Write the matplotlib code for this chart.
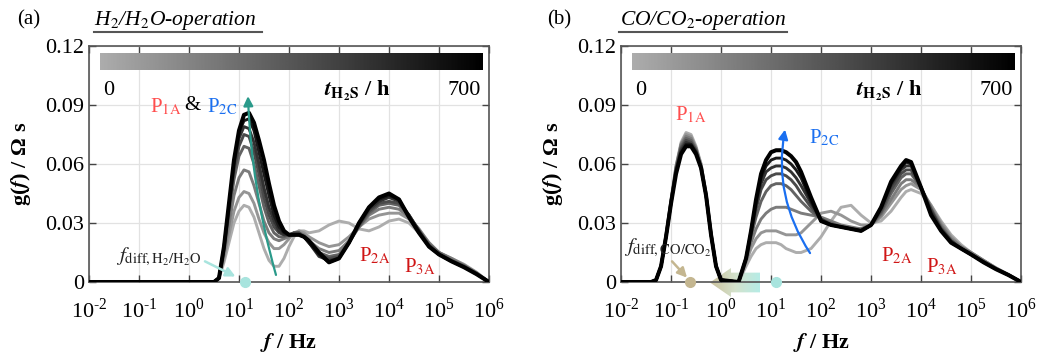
import numpy as np
import matplotlib
matplotlib.use("Agg")
import matplotlib.pyplot as plt
from matplotlib.lines import Line2D
from matplotlib.patches import Polygon
from matplotlib.colors import LinearSegmentedColormap

plt.rcParams['font.family'] = ['Liberation Serif', 'DejaVu Serif']
plt.rcParams['mathtext.fontset'] = 'stix'
plt.rcParams['font.size'] = 15

# ---- data (log10 f grid, g(f) in Ohm s), curves ordered 0 h -> 700 h ----
lf_h2 = [-2, 0.5, 0.6, 0.7, 0.8, 0.9, 1.0, 1.1, 1.2, 1.3, 1.4, 1.5, 1.6, 1.7, 1.8, 1.9, 2.0,
         2.1, 2.2, 2.3, 2.4, 2.6, 2.8, 3.0, 3.2, 3.4, 3.6, 3.8, 4.0, 4.2, 4.4, 4.6, 4.8, 5.0, 5.25, 5.5, 5.75, 6.0]
g_h2 = [
    [0, 0, 0.002, 0.010, 0.020, 0.030, 0.036, 0.039, 0.038, 0.033, 0.025, 0.017, 0.011, 0.008, 0.008, 0.012, 0.018,
     0.023, 0.026, 0.026, 0.025, 0.026, 0.029, 0.031, 0.030, 0.027, 0.026, 0.028, 0.031, 0.032, 0.030, 0.025, 0.019, 0.015, 0.012, 0.009, 0.005, 0],
    [0, 0, 0.002, 0.012, 0.024, 0.036, 0.043, 0.046, 0.045, 0.040, 0.032, 0.025, 0.020, 0.017, 0.017, 0.019, 0.022,
     0.025, 0.026, 0.025, 0.023, 0.020, 0.018, 0.019, 0.023, 0.028, 0.032, 0.034, 0.035, 0.035, 0.032, 0.026, 0.020, 0.015, 0.012, 0.0088, 0.0048, 0],
    [0, 0, 0.002, 0.014, 0.029, 0.044, 0.053, 0.057, 0.056, 0.049, 0.040, 0.031, 0.025, 0.022, 0.021, 0.022, 0.023,
     0.025, 0.025, 0.024, 0.021, 0.017, 0.015, 0.016, 0.021, 0.028, 0.034, 0.037, 0.038, 0.037, 0.033, 0.027, 0.020, 0.015, 0.012, 0.0085, 0.0046, 0],
    [0, 0, 0.002, 0.016, 0.034, 0.052, 0.064, 0.069, 0.068, 0.060, 0.049, 0.038, 0.030, 0.025, 0.023, 0.023, 0.024,
     0.025, 0.025, 0.023, 0.020, 0.015, 0.013, 0.014, 0.020, 0.028, 0.035, 0.039, 0.040, 0.039, 0.034, 0.026, 0.019, 0.015, 0.011, 0.0083, 0.0045, 0],
    [0, 0, 0.002, 0.017, 0.037, 0.056, 0.069, 0.075, 0.074, 0.066, 0.055, 0.043, 0.034, 0.028, 0.025, 0.024, 0.024,
     0.025, 0.025, 0.023, 0.020, 0.014, 0.012, 0.013, 0.020, 0.029, 0.036, 0.040, 0.041, 0.040, 0.034, 0.026, 0.019, 0.014, 0.011, 0.008, 0.0044, 0],
    [0, 0, 0.002, 0.017, 0.038, 0.059, 0.073, 0.079, 0.078, 0.071, 0.060, 0.048, 0.038, 0.031, 0.026, 0.024, 0.024,
     0.024, 0.024, 0.023, 0.020, 0.013, 0.011, 0.012, 0.020, 0.029, 0.037, 0.041, 0.043, 0.041, 0.034, 0.026, 0.018, 0.014, 0.0105, 0.0078, 0.0042, 0],
    [0, 0, 0.002, 0.018, 0.039, 0.061, 0.076, 0.082, 0.083, 0.077, 0.066, 0.055, 0.044, 0.034, 0.028, 0.025, 0.024,
     0.024, 0.024, 0.023, 0.020, 0.014, 0.010, 0.012, 0.020, 0.030, 0.038, 0.042, 0.044, 0.042, 0.033, 0.025, 0.018, 0.014, 0.0105, 0.0076, 0.004, 0],
    [0, 0, 0.002, 0.018, 0.040, 0.062, 0.077, 0.085, 0.086, 0.081, 0.072, 0.062, 0.050, 0.039, 0.031, 0.026, 0.024,
     0.024, 0.024, 0.023, 0.021, 0.015, 0.010, 0.012, 0.020, 0.030, 0.038, 0.043, 0.045, 0.042, 0.033, 0.025, 0.018, 0.014, 0.0105, 0.0075, 0.004, 0],
]

lf_co = [-2, -1.4, -1.3, -1.2, -1.1, -1.0, -0.9, -0.8, -0.7, -0.6, -0.5, -0.4, -0.3, -0.2, -0.1, 0.0,
         0.35, 0.5, 0.6, 0.7, 0.8, 0.9, 1.0, 1.1, 1.2, 1.3, 1.4, 1.5, 1.6, 1.8, 2.0, 2.2, 2.4, 2.6, 2.8,
         3.0, 3.2, 3.4, 3.6, 3.7, 3.8, 4.0, 4.2, 4.4, 4.6, 4.8, 5.0, 5.25, 5.5, 5.75, 6.0]
g_co_low = [  # -2 ... 0.0
    [0, 0, 0.001, 0.008, 0.024, 0.042, 0.059, 0.071, 0.076, 0.075, 0.069, 0.060, 0.045, 0.025, 0.008, 0.001],
    [0, 0, 0.001, 0.008, 0.024, 0.042, 0.059, 0.070, 0.075, 0.074, 0.068, 0.060, 0.045, 0.025, 0.008, 0.001],
    [0, 0, 0.001, 0.008, 0.024, 0.041, 0.058, 0.070, 0.074, 0.073, 0.068, 0.059, 0.045, 0.025, 0.008, 0.001],
    [0, 0, 0.001, 0.008, 0.023, 0.041, 0.058, 0.069, 0.073, 0.072, 0.067, 0.059, 0.044, 0.024, 0.008, 0.001],
    [0, 0, 0.001, 0.008, 0.023, 0.041, 0.057, 0.068, 0.072, 0.071, 0.067, 0.058, 0.044, 0.024, 0.008, 0.001],
    [0, 0, 0.001, 0.008, 0.023, 0.040, 0.057, 0.067, 0.071, 0.070, 0.066, 0.058, 0.044, 0.024, 0.008, 0.001],
    [0, 0, 0.001, 0.008, 0.023, 0.040, 0.056, 0.066, 0.070, 0.070, 0.066, 0.058, 0.044, 0.024, 0.008, 0.001],
    [0, 0, 0.001, 0.008, 0.023, 0.040, 0.055, 0.065, 0.069, 0.069, 0.065, 0.058, 0.044, 0.024, 0.008, 0.001],
]
g_co_high = [  # 0.35 ... 6.0
    [0, 0.008, 0.013, 0.017, 0.019, 0.020, 0.020, 0.020, 0.019, 0.017, 0.016, 0.015, 0.015, 0.017, 0.023, 0.031, 0.038, 0.039, 0.034,
     0.030, 0.031, 0.036, 0.043, 0.046, 0.047, 0.045, 0.039, 0.031, 0.024, 0.019, 0.015, 0.011, 0.0072, 0.0038, 0],
    [0, 0.010, 0.017, 0.022, 0.025, 0.026, 0.026, 0.026, 0.025, 0.024, 0.024, 0.024, 0.025, 0.030, 0.035, 0.036, 0.034, 0.031, 0.029,
     0.029, 0.033, 0.040, 0.047, 0.049, 0.050, 0.047, 0.039, 0.030, 0.023, 0.018, 0.015, 0.011, 0.0071, 0.0037, 0],
    [0, 0.011, 0.020, 0.027, 0.032, 0.035, 0.037, 0.038, 0.038, 0.038, 0.037, 0.036, 0.035, 0.034, 0.033, 0.031, 0.029, 0.028, 0.027,
     0.029, 0.034, 0.042, 0.050, 0.052, 0.052, 0.048, 0.038, 0.029, 0.022, 0.018, 0.015, 0.011, 0.007, 0.0037, 0],
    [0, 0.012, 0.023, 0.033, 0.041, 0.046, 0.049, 0.050, 0.050, 0.049, 0.047, 0.044, 0.041, 0.036, 0.032, 0.030, 0.028, 0.027, 0.027,
     0.029, 0.035, 0.045, 0.053, 0.055, 0.055, 0.048, 0.037, 0.028, 0.021, 0.017, 0.014, 0.0105, 0.0068, 0.0036, 0],
    [0, 0.012, 0.024, 0.037, 0.047, 0.052, 0.054, 0.055, 0.055, 0.054, 0.052, 0.049, 0.045, 0.038, 0.032, 0.029, 0.028, 0.027, 0.026,
     0.029, 0.036, 0.047, 0.055, 0.057, 0.057, 0.048, 0.037, 0.027, 0.021, 0.017, 0.014, 0.0103, 0.0067, 0.0036, 0],
    [0, 0.012, 0.025, 0.039, 0.050, 0.056, 0.058, 0.059, 0.059, 0.058, 0.056, 0.053, 0.049, 0.040, 0.032, 0.029, 0.028, 0.027, 0.026,
     0.029, 0.037, 0.049, 0.057, 0.059, 0.059, 0.048, 0.036, 0.027, 0.021, 0.017, 0.014, 0.0102, 0.0066, 0.0035, 0],
    [0, 0.012, 0.026, 0.041, 0.053, 0.059, 0.062, 0.063, 0.063, 0.062, 0.060, 0.057, 0.053, 0.041, 0.031, 0.029, 0.028, 0.027, 0.026,
     0.029, 0.038, 0.050, 0.058, 0.061, 0.060, 0.048, 0.035, 0.026, 0.020, 0.017, 0.014, 0.010, 0.0065, 0.0035, 0],
    [0, 0.012, 0.026, 0.042, 0.055, 0.062, 0.066, 0.067, 0.067, 0.066, 0.064, 0.061, 0.056, 0.043, 0.031, 0.029, 0.028, 0.027, 0.026,
     0.029, 0.038, 0.051, 0.059, 0.062, 0.061, 0.048, 0.034, 0.026, 0.020, 0.017, 0.014, 0.010, 0.0065, 0.0035, 0],
]
g_co = [lo + hi for lo, hi in zip(g_co_low, g_co_high)]

ytick_vals = [0, 0.03, 0.06, 0.09, 0.12]
ytick_labels = ['0', '0.03', '0.06', '0.09', '0.12']
xtick_exp = [-2, -1, 0, 1, 2, 3, 4, 5, 6]
t_range = ['0', '700']

fig = plt.figure(figsize=(10.38, 3.53), dpi=100)
ax_a = fig.add_axes([0.0857, 0.2011, 0.3854, 0.6686])
ax_b = fig.add_axes([0.5983, 0.2011, 0.3854, 0.6686])

greys = [str(v) for v in np.linspace(0.68, 0.0, 8)]
lws = [2.1] * 7 + [2.9]

for ax, lf, curves in [(ax_a, lf_h2, g_h2), (ax_b, lf_co, g_co)]:
    ax.set_facecolor('none')
    f = 10.0 ** np.array(lf)
    for g, c, lw in zip(curves, greys, lws):
        ax.plot(f, g, color=c, lw=lw, solid_joinstyle='round', solid_capstyle='round', zorder=3)
    ax.set_xscale('log')
    ax.set_yticks(ytick_vals)
    ax.set_yticklabels(ytick_labels)
    ax.set_xticks([10.0 ** k for k in xtick_exp])
    ax.set_xticklabels([r'10$^{\mathdefault{%d}}$' % k if k >= 0 else '10$^{\\mathdefault{\u2010%d}}$' % (-k)
                        for k in xtick_exp])
    ax.grid(True, which='major', color='#e2e2e2', lw=0.9)
    ax.set_axisbelow(True)
    ax.tick_params(which='both', direction='in', top=True, right=True, color='#444444', labelsize=16)
    ax.tick_params(which='major', length=5, width=1)
    ax.tick_params(which='minor', length=2.5, width=0.8)
    ax.tick_params(axis='x', which='major', pad=12)
    for s in ax.spines.values():
        s.set_color('#555555')
        s.set_linewidth(1.2)
    ax.set_xlabel(r'$\mathbfit{f}$ / Hz', fontweight='bold', fontsize=16, labelpad=6)
    ax.set_ylabel(r'g($\mathbfit{f}$) / Ω s', fontweight='bold', fontsize=16, labelpad=9)
    # in-axes time colorbar
    grad = np.linspace(0, 1, 256).reshape(1, -1)
    ax.imshow(grad, cmap='gray_r', vmin=-0.48, vmax=1.0, aspect='auto',
              extent=[0.0275, 0.9825, 0.898, 0.966], transform=ax.transAxes, zorder=4)
    ax.set_xlim(1e-2, 1e6)
    ax.set_ylim(0, 0.12)
    ax.text(0.035, 0.81, t_range[0], transform=ax.transAxes, ha='left', va='center', fontsize=16)
    ax.text(0.98, 0.81, t_range[1], transform=ax.transAxes, ha='right', va='center', fontsize=16)
    ax.text(0.67, 0.81, r'$\mathbfit{t}_{\mathbf{H_2S}}$ / h', transform=ax.transAxes,
            ha='center', va='center', fontsize=16, fontweight='bold')

# panel labels and titles
fig.text(17 / 1038, 1 - 20 / 353, '(a)', ha='left', va='center', fontsize=15)
fig.text(547 / 1038, 1 - 20 / 353, '(b)', ha='left', va='center', fontsize=15)
fig.text(94 / 1038, 1 - 20 / 353, r'H$_\mathit{2}$/H$_\mathit{2}$O-operation', style='italic',
         ha='left', va='center', fontsize=15.5)
fig.text(620 / 1038, 1 - 20 / 353, r'CO/CO$_\mathit{2}$-operation', style='italic',
         ha='left', va='center', fontsize=15.5)
fig.add_artist(Line2D([94 / 1038, 262 / 1038], [1 - 32 / 353] * 2, color='#555555', lw=1.5))
fig.add_artist(Line2D([619 / 1038, 787 / 1038], [1 - 32 / 353] * 2, color='#555555', lw=1.5))

red_l = '#ff4d4d'
red_d = '#d01515'
blue = '#1a6ff0'

# panel (a) annotations
ax_a.text(10 ** -0.78, 0.0945, r'P$_{\mathrm{1A}}$', color=red_l, fontsize=15, ha='left', va='top')
ax_a.text(10 ** -0.1, 0.0945, '&', color='black', fontsize=15, ha='left', va='top')
ax_a.text(10 ** 0.36, 0.0945, r'P$_{\mathrm{2C}}$', color=blue, fontsize=15, ha='left', va='top')
ax_a.annotate('', xy=(10 ** 1.18, 0.0945), xytext=(10 ** 1.74, 0.0036),
              arrowprops=dict(arrowstyle='-|>', color='#2a9a8a', lw=1.6, mutation_scale=14,
                              connectionstyle='arc3,rad=-0.06', shrinkA=0, shrinkB=0), zorder=5)
ax_a.text(10 ** 3.4, 0.0135, r'P$_{\mathrm{2A}}$', color=red_d, fontsize=15, ha='left', va='center')
ax_a.text(10 ** 4.3, 0.0075, r'P$_{\mathrm{3A}}$', color=red_d, fontsize=15, ha='left', va='center')
ax_a.text(10 ** -1.45, 0.0125, r'$f_{\mathrm{diff,H_2/H_2O}}$', fontsize=15, ha='left', va='center', color='#222222')
ax_a.annotate('', xy=(10 ** 0.93, 0.0028), xytext=(10 ** 0.32, 0.0105),
              arrowprops=dict(arrowstyle='-|>', color='#a8e4de', lw=1.8, mutation_scale=14,
                              shrinkA=0, shrinkB=0), zorder=5)
ax_a.plot([10 ** 1.12], [0], 'o', color='#a8e4de', ms=7, clip_on=False, zorder=6)

# panel (b) annotations
ax_b.text(10 ** -0.6, 0.0795, r'P$_{\mathrm{1A}}$', color=red_l, fontsize=15, ha='center', va='bottom')
ax_b.annotate('', xy=(10 ** 1.28, 0.0775), xytext=(10 ** 1.78, 0.0147),
              arrowprops=dict(arrowstyle='-|>', color=blue, lw=1.6, mutation_scale=14,
                              connectionstyle='arc3,rad=-0.2', shrinkA=0, shrinkB=0), zorder=5)
ax_b.text(10 ** 1.75, 0.073, r'P$_{\mathrm{2C}}$', color=blue, fontsize=15, ha='left', va='center')
ax_b.text(10 ** 3.2, 0.0135, r'P$_{\mathrm{2A}}$', color=red_d, fontsize=15, ha='left', va='center')
ax_b.text(10 ** 4.1, 0.0075, r'P$_{\mathrm{3A}}$', color=red_d, fontsize=15, ha='left', va='center')
ax_b.text(10 ** -1.95, 0.0175, r'$f_{\mathrm{diff,CO/CO_2}}$', fontsize=15, ha='left', va='center', color='#222222')
ax_b.annotate('', xy=(10 ** -0.68, 0.0022), xytext=(10 ** -0.98, 0.0105),
              arrowprops=dict(arrowstyle='-|>', color='#c4b690', lw=1.8, mutation_scale=14,
                              shrinkA=0, shrinkB=0), zorder=5)
ax_b.plot([10 ** -0.62], [0], 'o', color='#c4b690', ms=7, clip_on=False, zorder=6)
ax_b.plot([10 ** 1.1], [0], 'o', color='#a8e4de', ms=7, clip_on=False, zorder=6)

# broad arrow pointing to lower frequencies (gradient, behind the curves)
x0, x1 = 710 / 1038, 760 / 1038
y0, y1 = 1 - 297 / 353, 1 - 268 / 353
ax_arrow = fig.add_axes([x0, y0, x1 - x0, y1 - y0], zorder=-1)
ax_arrow.set_axis_off()
cm = LinearSegmentedColormap.from_list('tan_cyan', ['#cbc19c', '#d4e2cc', '#b6ece6'])
im = ax_arrow.imshow(np.linspace(0, 1, 128).reshape(1, -1), cmap=cm, aspect='auto', extent=[0, 1, 0, 1])
ax_arrow.set_xlim(0, 1)
ax_arrow.set_ylim(0, 1)
poly = Polygon([(0.0, 0.5), (0.42, 1.0), (0.42, 0.84), (1.0, 0.84), (1.0, 0.16),
                (0.42, 0.16), (0.42, 0.0)], closed=True, transform=ax_arrow.transData,
               facecolor='none', edgecolor='none')
ax_arrow.add_patch(poly)
im.set_clip_path(poly)

fig.savefig('out.png', dpi=100, facecolor='white')
